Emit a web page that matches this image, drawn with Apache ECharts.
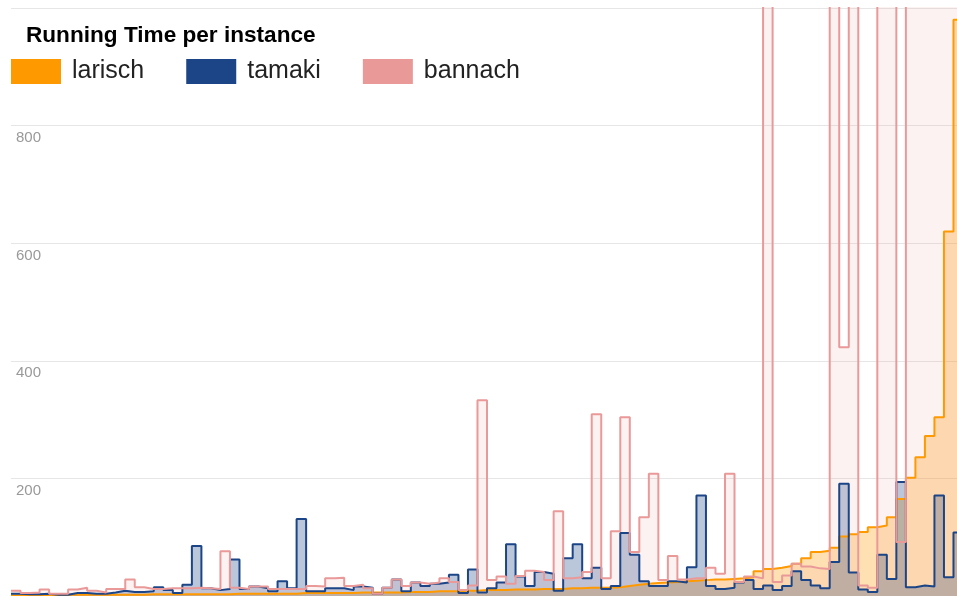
<!DOCTYPE html>
<html>
<head>
<meta charset="utf-8">
<script src="https://cdn.jsdelivr.net/npm/echarts@6/dist/echarts.min.js"></script>
<style>
html,body{margin:0;padding:0;background:#fff;}
#chart{width:957px;height:596px;}
</style>
</head>
<body>
<div id="chart"></div>
<script>
// Running time per instance (100 instances, sorted by larisch)
const seriesNames = ['larisch', 'tamaki', 'bannach'];
const yTicks = [0, 200, 400, 600, 800, 1000];

const larisch = [
  1,1,1,1,1,2,2,2,2,2,
  2,2,2,2,3,3,3,3,3,3,
  3,3,3,4,4,4,4,4,4,4,
  5,5,5,5,5,5,6,6,6,6,
  6,7,7,7,8,8,8,9,9,10,
  10,10,11,11,11,12,12,12,13,13,
  14,14,14,15,17,19,21,22,23,24,
  25,26,27,28,28,29,30,32,42,46,
  48,51,55,64,75,77,82,101,105,109,
  117,120,134,165,201,236,272,304,620,980
];
const tamaki = [
  4,3,3,4,2,2,5,5,4,4,
  6,9,7,7,8,15,10,5,19,85,
  13,10,12,62,12,16,13,8,25,13,
  131,8,8,13,13,10,16,14,4,14,
  28,8,23,17,21,23,36,5,45,6,
  13,23,88,33,17,41,38,9,64,88,
  30,48,12,17,107,70,25,17,17,25,
  23,49,171,17,12,14,23,27,12,18,
  10,17,42,27,18,13,58,191,40,11,
  7,70,29,194,15,18,16,171,32,108
];
const bannach = [
  9,5,6,11,4,4,11,14,9,6,
  12,12,28,15,12,12,13,13,13,14,
  13,12,76,14,12,16,16,12,12,12,
  12,17,16,30,31,17,19,13,4,14,
  28,17,23,21,23,30,24,10,18,333,
  27,33,21,34,43,41,27,144,30,32,
  41,309,30,110,304,75,134,208,27,68,
  28,30,30,48,38,208,24,33,30,1500,
  24,35,55,50,47,46,1500,423,1500,18,
  14,1500,1500,92,1500,1500,1500,1500,1500,1500
];

function stepData(vals) {
  const d = vals.map((v, i) => [i, v]);
  d.push([vals.length, vals[vals.length - 1]]);
  return d;
}

const FONT = 'Arial, "Liberation Sans", sans-serif';
const colors = ['#ff9900', '#1c4587', '#ea9999'];
const fillOpacity = [0.3, 0.3, 0.13];
const allData = [larisch, tamaki, bannach];
// the last instance is partly cut off at the right edge of the picture
const visibleSteps = 99.37;

const chart = echarts.init(document.getElementById('chart'), null, {renderer: 'canvas'});
chart.setOption({
  animation: false,
  backgroundColor: '#ffffff',
  color: colors,
  title: {
    text: 'Running Time per instance',
    left: 26, top: 24, padding: 0,
    textStyle: {fontFamily: FONT, fontSize: 22.6, fontWeight: 'bold', color: '#000'}
  },
  legend: {
    data: seriesNames,
    left: 11, top: 59, padding: 0,
    icon: 'rect', itemWidth: 50, itemHeight: 25, itemGap: 42,
    textStyle: {fontFamily: FONT, fontSize: 25, color: '#222', padding: [6, 0, 0, 6]}
  },
  grid: {left: 11, top: 8, right: 0, height: 589.5, containLabel: false},
  xAxis: {
    type: 'value', min: 0, max: visibleSteps, show: false,
    splitLine: {show: false}
  },
  yAxis: {
    type: 'value', min: yTicks[0], max: yTicks[yTicks.length - 1], interval: 200,
    axisLine: {show: false}, axisTick: {show: false},
    splitLine: {show: true, lineStyle: {color: '#e6e6e6', width: 1}},
    axisLabel: {
      inside: true, margin: 5, showMinLabel: false, showMaxLabel: false,
      verticalAlign: 'top', padding: [5, 0, 0, 0],
      fontFamily: FONT, fontSize: 15, color: '#999'
    }
  },
  series: seriesNames.map((name, i) => ({
    name: name,
    type: 'line',
    step: 'end',
    data: stepData(allData[i]),
    showSymbol: false,
    symbol: 'none',
    clip: true,
    lineStyle: {color: colors[i], width: 2},
    itemStyle: {color: colors[i]},
    areaStyle: {color: colors[i], opacity: fillOpacity[i]},
    emphasis: {disabled: true}
  }))
});
</script>
</body>
</html>
